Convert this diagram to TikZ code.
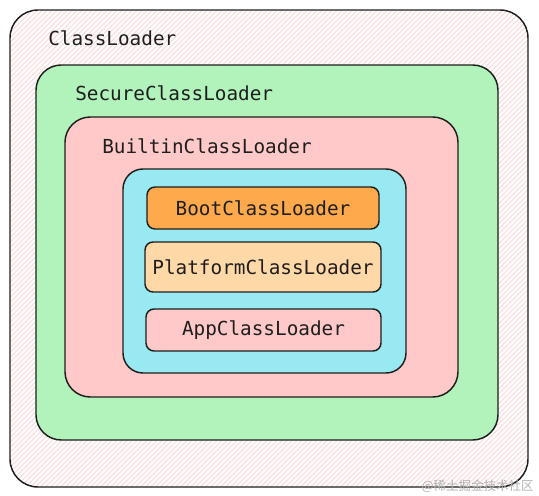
\documentclass[tikz,border=0pt]{standalone}
\usepackage{fontspec}
\setmonofont{DejaVu Sans Mono}
\newfontfamily\cjkfont{Noto Sans CJK SC}
\definecolor{inkc}{HTML}{1E1E1E}
\definecolor{greenc}{HTML}{B2F2BB}
\definecolor{pinkc}{HTML}{FFC9C9}
\definecolor{cyanc}{HTML}{99E9F2}
\definecolor{orangec}{HTML}{FFA94D}
\definecolor{peachc}{HTML}{FFD8A8}
\definecolor{hatchc}{HTML}{F7C4C4}
\begin{document}
\begin{tikzpicture}[x=0.75pt,y=-0.75pt,
  box/.style={draw=inkc, line width=1.1pt, rectangle, inner sep=0pt},
  lbl/.style={font=\ttfamily\fontsize{14.5pt}{17pt}\selectfont, text=inkc, inner sep=0pt},
  hatch/.style={draw=hatchc, line width=0.4pt}]
\useasboundingbox (0,0) rectangle (539,496);
\node[box, fill=white, rounded corners=21pt, minimum width=388.5pt, minimum height=357.75pt,
  path picture={\foreach \k in {-860,-855,...,300}{\draw[hatch] (\k,300) -- ++(600,-600);}}] (outer) at (269,248.5) {};
\node[box, fill=greenc, rounded corners=19pt, minimum width=346.5pt, minimum height=281.25pt] (secure) at (267,252.5) {};
\node[box, fill=pinkc, rounded corners=19pt, minimum width=294.75pt, minimum height=210pt] (builtin) at (261.5,257) {};
\node[box, fill=cyanc, rounded corners=15pt, minimum width=212.25pt, minimum height=153pt] (group) at (264.5,271) {};
\node[box, fill=orangec, rounded corners=6pt, minimum width=174pt, minimum height=31.5pt] (boot) at (263,208) {};
\node[box, fill=peachc, rounded corners=6pt, minimum width=177pt, minimum height=37.5pt] (platform) at (263,267) {};
\node[box, fill=pinkc, rounded corners=6pt, minimum width=176.25pt, minimum height=31.5pt] (app) at (263.5,330) {};
\node[lbl, anchor=west] (tcl) at (48,38) {ClassLoader};
\node[lbl, anchor=west] (tscl) at (75,93) {SecureClassLoader};
\node[lbl, anchor=west] (tbcl) at (102,146) {BuiltinClassLoader};
\node[lbl] (tboot) at (boot.center) {BootClassLoader};
\node[lbl] (tplat) at (platform.center) {PlatformClassLoader};
\node[lbl] (tapp) at (app.center) {AppClassLoader};
\node[font=\cjkfont\fontsize{9.4pt}{11pt}\selectfont, text=black!30, anchor=east, inner sep=0pt] (wm) at (534,486) {@稀土掘金技术社区};
\end{tikzpicture}
\end{document}
